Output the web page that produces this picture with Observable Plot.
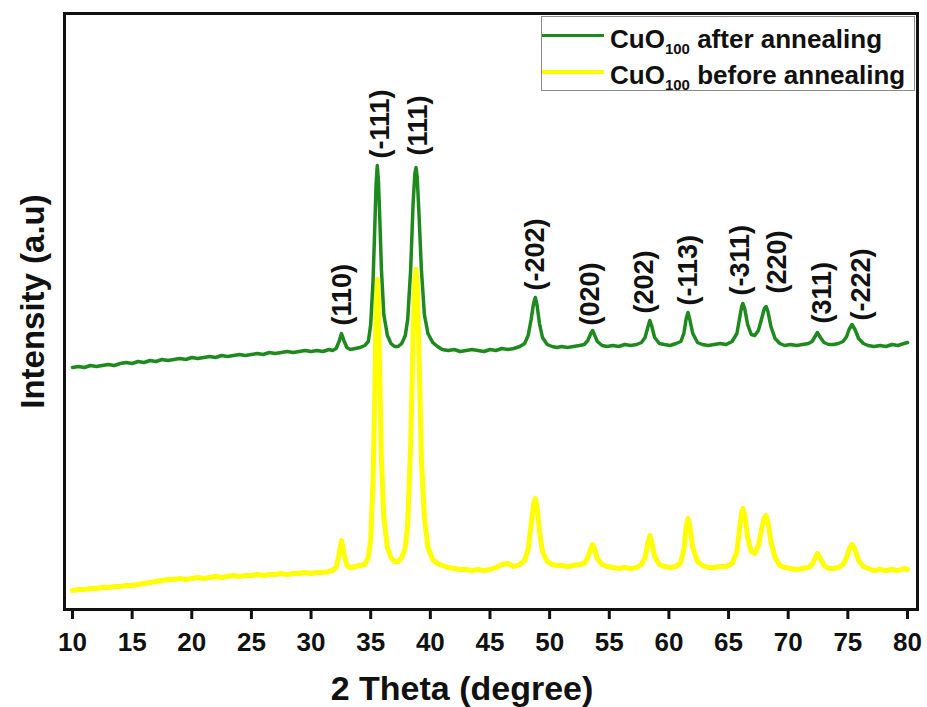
<!DOCTYPE html>
<html>
<head>
<meta charset="utf-8">
<script src="https://cdn.jsdelivr.net/npm/d3@7"></script>
<script src="https://cdn.jsdelivr.net/npm/@observablehq/plot@0.6"></script>
<style>
  body { margin: 0; background: #fff; }
  #wrap { position: relative; width: 927px; height: 707px; }
  #legend { position: absolute; left: 541px; top: 16px; width: 374px; height: 75px;
    border: 1px solid #8a8a8a; background: #fff; box-sizing: border-box;
    font-family: "Liberation Sans", Arial, sans-serif; font-weight: bold; color: #111; }
  .sw { position: absolute; left: 0; width: 62px; }
  .lt { position: absolute; left: 68px; font-size: 26px; line-height: 26px; white-space: nowrap; }
  .lt .s { font-size: 15px; position: relative; top: 6px; }
</style>
</head>
<body>
<div id="wrap"></div>
<script>
const twoTheta = [
  10,10.5,11,11.5,12,12.5,13,13.5,14,14.5,
  15,15.5,16,16.5,17,17.5,18,18.5,19,19.5,
  20,20.5,21,21.5,22,22.5,23,23.5,24,24.5,
  25,25.5,26,26.5,27,27.5,28,28.5,29,29.5,
  30,30.5,31,31.5,
  31.8,32.1,32.35,32.55,32.75,33.0,33.3,33.7,34.1,34.5,
  34.8,35.0,35.2,35.35,35.45,35.55,35.65,35.75,35.9,36.1,36.4,36.7,37.0,37.3,37.6,37.9,
  38.1,38.35,38.55,38.7,38.8,38.9,39.05,39.25,39.5,39.8,40.2,40.6,
  41,41.5,42,42.5,43,43.5,44,44.5,45,45.5,46,46.5,47,47.5,
  47.9,48.2,48.45,48.65,48.8,48.95,49.15,49.4,49.8,50.2,
  50.6,51,51.5,52,52.5,52.9,
  53.2,53.45,53.6,53.75,54.0,54.4,
  54.8,55.3,55.8,56.3,56.8,57.3,57.7,
  58.0,58.25,58.4,58.55,58.8,59.2,
  59.6,60.1,60.6,61.0,
  61.25,61.45,61.6,61.75,62.0,62.4,
  62.8,63.3,63.8,64.3,64.8,65.3,
  65.7,65.95,66.1,66.2,66.35,66.6,66.9,67.2,67.5,67.8,68.0,68.15,68.3,68.55,68.9,69.3,
  69.7,70.2,70.7,71.2,71.7,72.0,
  72.2,72.45,72.7,73.0,73.4,
  73.8,74.2,74.6,74.9,
  75.1,75.35,75.6,75.9,76.3,
  76.7,77.2,77.7,78.2,78.7,79.2,79.7,80.0
];
const afterAnnealing = [
  242,243,242,244,243,244,245,244,246,247,
  246,248,247,249,248,250,249,250,251,250,
  252,251,252,253,252,254,253,254,255,254,
  255,256,255,257,256,257,258,257,258,259,
  258,259,258,260,
  259,261,268,276,269,262,260,261,262,264,
  268,285,330,385,425,444,428,395,340,295,274,266,263,263,266,274,
  290,340,405,436,442,432,395,340,295,276,267,263,
  260,259,260,258,259,260,259,258,260,259,261,260,261,263,
  266,274,290,306,312,304,286,272,265,263,
  262,263,262,263,264,265,
  269,276,279,275,268,264,
  263,264,263,265,264,265,267,
  272,283,289,284,272,266,
  265,264,266,268,
  276,291,297,290,276,267,
  265,264,265,266,265,268,
  276,293,303,306,301,285,275,274,279,292,301,303,298,283,271,266,
  264,265,264,265,266,268,
  272,277,272,267,265,
  265,266,268,273,
  280,285,280,271,266,
  264,263,264,263,265,264,266,267
];
const beforeAnnealing = [
  19,20,20,21,21,22,22,23,23,24,
  24,25,26,27,28,29,30,30,31,30,
  31,32,31,32,33,32,33,34,33,34,
  34,35,34,35,35,36,35,36,36,37,
  36,37,37,38,
  39,42,55,69,56,44,42,43,44,45,
  52,70,130,220,300,330,305,240,150,92,62,52,48,48,52,62,
  85,165,270,330,340,325,255,150,92,62,50,46,
  44,42,41,40,40,39,40,39,40,42,45,46,43,45,
  49,60,85,105,111,102,78,58,48,45,
  44,44,43,44,45,46,
  52,61,65,61,51,45,
  43,42,41,42,41,42,45,
  52,67,74,68,53,45,
  43,42,43,47,
  60,83,91,84,62,48,
  44,42,42,43,43,46,
  58,84,97,101,95,72,58,56,64,82,92,94,88,68,52,44,
  42,41,40,41,42,45,
  50,56,51,44,41,
  41,42,45,52,
  60,65,60,49,43,
  41,39,40,39,40,39,41,40
];
const peakLabels = ["(110)","(-111)","(111)","(-202)","(020)","(202)","(-113)","(-311)","(220)","(311)","(-222)"];
const labelTheta = [32.63,35.85,39.0,48.8,53.45,57.9,61.65,65.95,69.1,72.9,76.1];
const labelBase = [284,451,454,319,284,296,304,314,316,286,289];
const xTicks = [10,15,20,25,30,35,40,45,50,55,60,65,70,75,80];

const greenColor = "#1e8a1e";
const yellowColor = "#ffff00";

const afterRows = twoTheta.map((t, i) => ({t, v: afterAnnealing[i]}));
const beforeRows = twoTheta.map((t, i) => ({t, v: beforeAnnealing[i]}));
const labelRows = peakLabels.map((s, i) => ({t: labelTheta[i], v: labelBase[i], s}));

const chart = Plot.plot({
  width: 927,
  height: 707,
  marginTop: 13,
  marginRight: 10,
  marginBottom: 98,
  marginLeft: 64,
  style: {fontFamily: "'Liberation Sans', Arial, sans-serif", fontWeight: "bold", color: "#111", background: "#fff"},
  x: {domain: [9.33, 80.84], axis: null},
  y: {domain: [0, 596], axis: null},
  marks: [
    Plot.line(beforeRows, {x: "t", y: "v", stroke: yellowColor, strokeWidth: 5, curve: "linear"}),
    Plot.line(afterRows, {x: "t", y: "v", stroke: greenColor, strokeWidth: 3.5, curve: "linear"}),
    Plot.text(labelRows, {x: "t", y: "v", text: "s", rotate: -90, textAnchor: "start", lineAnchor: "middle", fontSize: 27, fontWeight: "bold", fill: "#111"}),
    Plot.axisX({ticks: xTicks, tickSize: 10, tickPadding: 13, fontSize: 26, fontWeight: "bold", strokeWidth: 3, stroke: "#111", fill: "#111", label: null, tickFormat: d => String(d)}),
    Plot.text(["2 Theta (degree)"], {frameAnchor: "bottom", textAnchor: "middle", dx: -29, dy: 80, lineAnchor: "middle", fontSize: 34, fontWeight: "bold", fill: "#111"}),
    Plot.text(["Intensity (a.u)"], {frameAnchor: "left", rotate: -90, textAnchor: "middle", dx: -31, dy: -10, lineAnchor: "middle", fontSize: 33, fontWeight: "bold", fill: "#111"}),
    Plot.frame({stroke: "#111", strokeWidth: 3})
  ]
});

const wrap = document.getElementById("wrap");
wrap.appendChild(chart);

const legend = document.createElement("div");
legend.id = "legend";
legend.innerHTML =
  '<div class="sw" style="top:17px;height:3px;background:' + greenColor + '"></div>' +
  '<div class="lt" style="top:9px">CuO<span class="s">100</span> after annealing</div>' +
  '<div class="sw" style="top:53px;height:4px;background:' + yellowColor + '"></div>' +
  '<div class="lt" style="top:45px">CuO<span class="s">100</span> before annealing</div>';
wrap.appendChild(legend);
</script>
</body>
</html>
